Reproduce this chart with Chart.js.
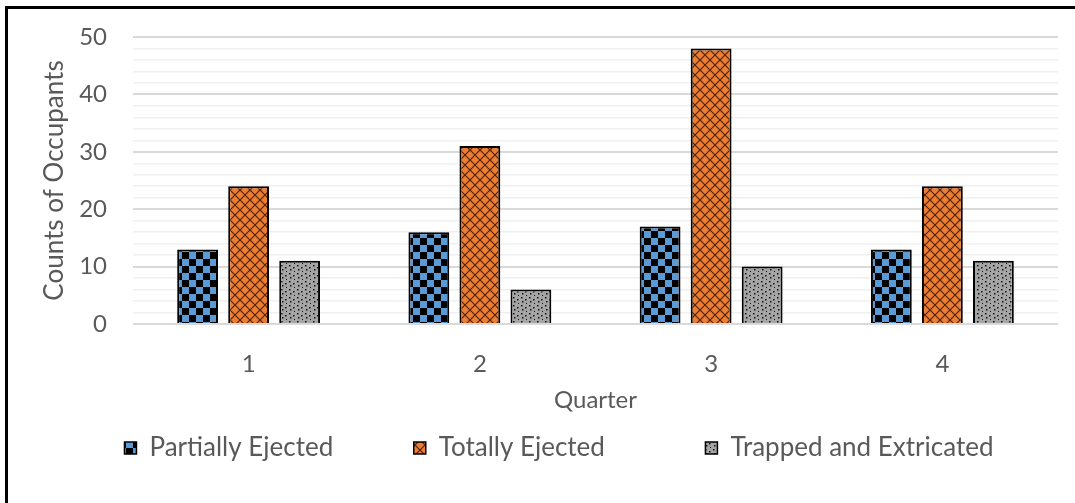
<!DOCTYPE html>
<html>
<head>
<meta charset="utf-8">
<script src="https://cdn.jsdelivr.net/npm/chart.js@4.4.1/dist/chart.umd.min.js"></script>
<style>
  html, body { margin: 0; padding: 0; background: #fff; }
  #wrap { position: relative; width: 1075px; height: 503px; }
  #frame { position: absolute; left: 5px; top: 6px; right: 0; bottom: 0;
           border-left: 3px solid #000; border-top: 3px solid #000; pointer-events: none; }
</style>
</head>
<body>
<div id="wrap">
  <canvas id="chart" width="1075" height="503"></canvas>
  <div id="frame"></div>
</div>
<script>
const quarters = ['1', '2', '3', '4'];
const partiallyEjected = [13, 16, 17, 13];
const totallyEjected = [24, 31, 48, 24];
const trappedExtricated = [11, 6, 10, 11];
const seriesNames = ['Partially Ejected', 'Totally Ejected', 'Trapped and Extricated'];

const textColor = '#595959';
const fontFamily = 'Lato, Calibri, sans-serif';
const legendFont = { family: fontFamily, size: 26 };
const legendBox = 12;
const legendPad = 14;
// distance from one legend box to the next in the original
const legendSpacing = [291, 290];

// small tiles for the Excel-like pattern fills
function makePattern(size, draw) {
  const tile = document.createElement('canvas');
  tile.width = size;
  tile.height = size;
  draw(tile.getContext('2d'), size);
  return document.createElement('canvas').getContext('2d').createPattern(tile, 'repeat');
}

const checkerBlue = makePattern(14, (c, s) => {
  c.fillStyle = '#5b9bd5';
  c.fillRect(0, 0, s, s);
  c.fillStyle = '#000';
  c.fillRect(0, 0, 7, 7);
  c.fillRect(7, 7, 7, 7);
});

const latticeOrange = makePattern(10, (c, s) => {
  c.fillStyle = '#ed7d31';
  c.fillRect(0, 0, s, s);
  c.strokeStyle = 'rgba(50, 20, 0, 0.85)';
  c.lineWidth = 1.2;
  c.beginPath();
  c.moveTo(0, 0); c.lineTo(s, s);
  c.moveTo(s, 0); c.lineTo(0, s);
  c.stroke();
});

const dotsGray = makePattern(8, (c, s) => {
  c.fillStyle = '#a5a5a5';
  c.fillRect(0, 0, s, s);
  c.fillStyle = '#111';
  c.fillRect(1, 1, 1.5, 1.5);
  c.fillRect(5, 3, 1.5, 1.5);
  c.fillRect(2, 5, 1.5, 1.5);
  c.fillRect(6, 7, 1, 1);
});

// pad legend text with spaces so the gaps between entries match
const measureCtx = document.createElement('canvas').getContext('2d');
measureCtx.font = legendFont.size + 'px ' + fontFamily;
const spaceW = measureCtx.measureText('          ').width / 10;
function padLabel(text, i) {
  if (i >= legendSpacing.length) return text;
  const used = legendBox + legendFont.size / 2 + measureCtx.measureText(text).width + legendPad;
  const n = Math.max(0, Math.round((legendSpacing[i] - used) / spaceW));
  return text + ' '.repeat(n);
}

new Chart(document.getElementById('chart'), {
  type: 'bar',
  data: {
    labels: quarters,
    datasets: [
      { label: seriesNames[0], data: partiallyEjected, backgroundColor: checkerBlue },
      { label: seriesNames[1], data: totallyEjected, backgroundColor: latticeOrange },
      { label: seriesNames[2], data: trappedExtricated, backgroundColor: dotsGray }
    ]
  },
  options: {
    responsive: false,
    animation: false,
    datasets: {
      bar: {
        borderColor: '#000',
        borderWidth: 2,
        categoryPercentage: 0.662,
        barPercentage: 0.8
      }
    },
    layout: {
      // wider left padding shifts the legend right; the y axis is narrowed to match
      padding: { left: 60, right: 17, top: 37, bottom: 32 }
    },
    scales: {
      x: {
        grid: { display: false },
        border: { display: false },
        ticks: { color: textColor, padding: 18, font: { family: fontFamily, size: 24 } },
        title: {
          display: true,
          text: 'Quarter',
          color: textColor,
          padding: { top: 4, bottom: 6 },
          font: { family: fontFamily, size: 24 }
        },
        afterFit: scale => { scale.height = 97; }
      },
      y: {
        min: 0,
        max: 50,
        border: { display: false },
        grid: {
          drawTicks: false,
          color: ctx => (ctx.tick && ctx.tick.value % 10 === 0) ? '#d9d9d9' : '#f0f0f0',
          lineWidth: ctx => (ctx.tick && ctx.tick.value % 10 === 0) ? 2 : 1.5
        },
        ticks: {
          stepSize: 2,
          autoSkip: false,
          padding: 26,
          color: textColor,
          font: { family: fontFamily, size: 24 },
          callback: v => (v % 10 === 0 ? v : '')
        },
        title: {
          display: true,
          text: 'Counts of Occupants',
          color: textColor,
          padding: { top: -21, bottom: 4 },
          font: { family: fontFamily, size: 26 }
        },
        afterFit: scale => {
          scale.width = 73;
          // tick padding would otherwise push the plot top down
          scale.paddingTop = 0;
          scale.paddingBottom = 0;
        }
      }
    },
    plugins: {
      tooltip: { enabled: false },
      legend: {
        position: 'bottom',
        labels: {
          color: textColor,
          boxWidth: legendBox,
          boxHeight: legendBox,
          padding: legendPad,
          font: legendFont,
          generateLabels: chart => {
            const items = Chart.defaults.plugins.legend.labels.generateLabels(chart);
            items.forEach((item, i) => {
              item.strokeStyle = '#000';
              item.lineWidth = 1.5;
              item.text = padLabel(item.text, i);
            });
            return items;
          }
        }
      }
    }
  }
});
</script>
</body>
</html>
